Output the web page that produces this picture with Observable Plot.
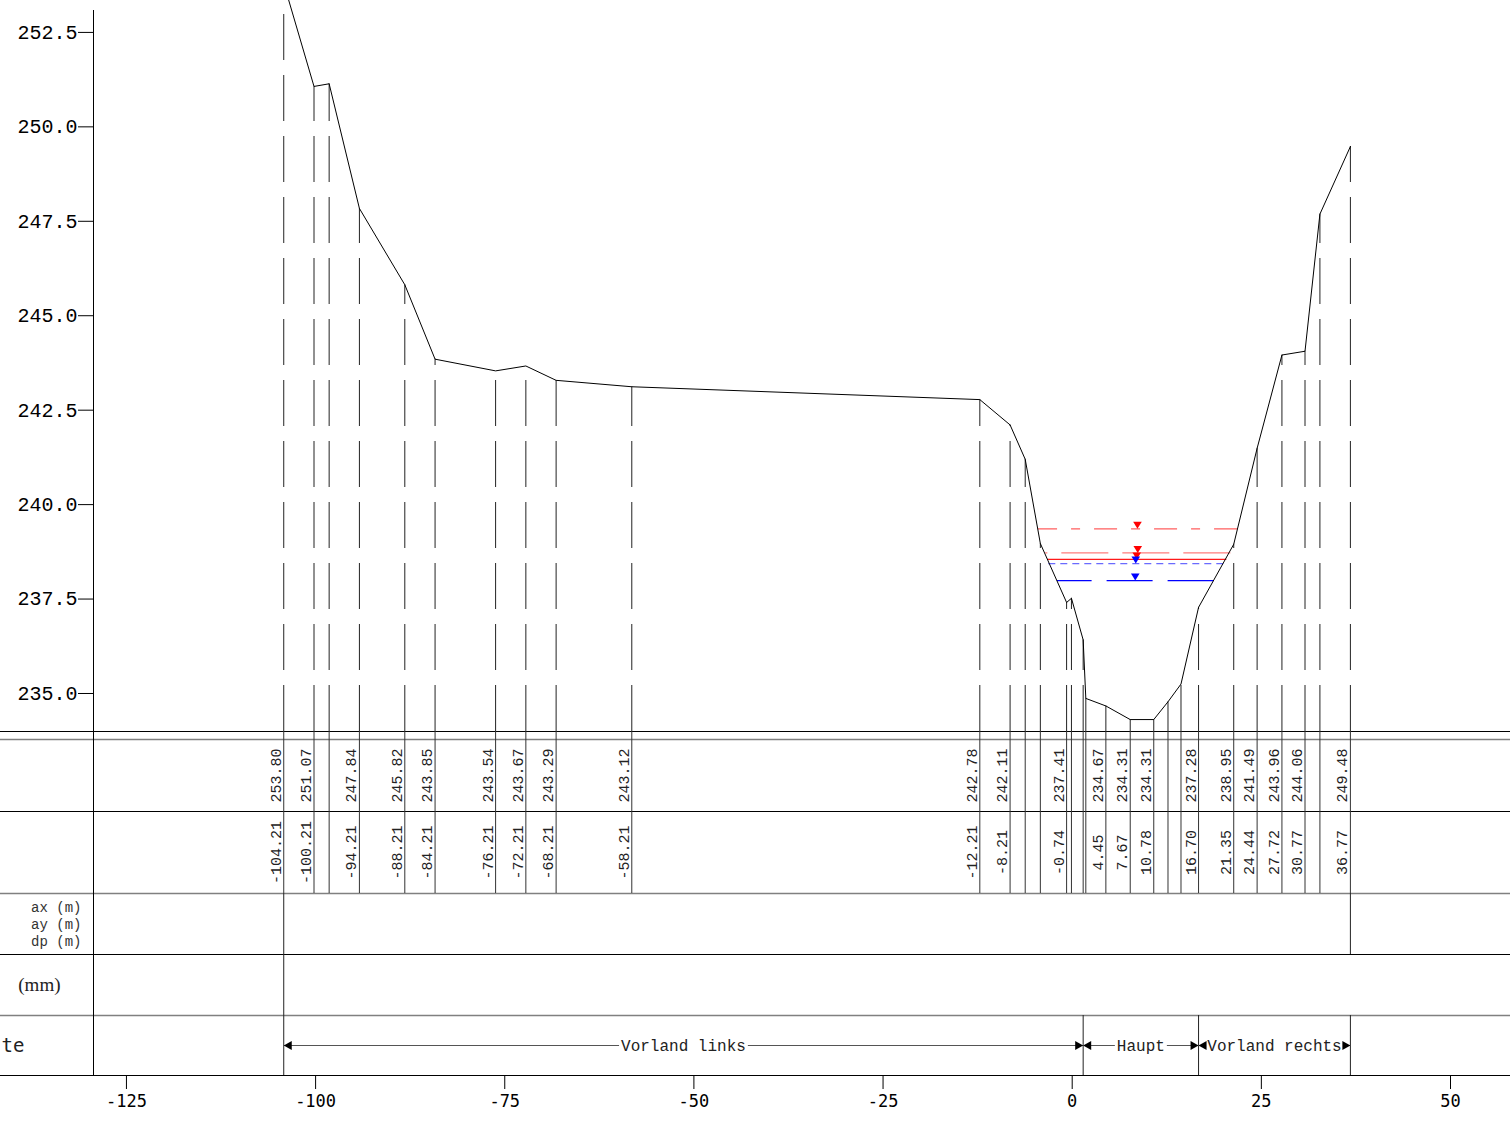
<!DOCTYPE html>
<html><head><meta charset="utf-8">
<script src="https://cdn.jsdelivr.net/npm/d3@7"></script>
<script src="https://cdn.jsdelivr.net/npm/@observablehq/plot@0.6"></script>
<style>
html,body{margin:0;padding:0;background:#fff;overflow:hidden;}
#chart svg{display:block;}
</style></head><body><div id="chart"></div>
<script>
// ---- data ----
const stations = [-104.21,-100.21,-98.21,-94.21,-88.21,-84.21,-76.21,-72.21,-68.21,-58.21,-12.21,-8.21,-6.21,-4.21,-0.74,-0.10,1.45,1.80,4.45,7.67,10.78,12.66,14.38,16.70,21.35,24.44,27.72,30.77,32.74,36.77];
const elevations = [253.80,251.07,251.14,247.84,245.82,243.85,243.54,243.67,243.29,243.12,242.78,242.11,241.20,238.97,237.41,237.52,236.42,234.87,234.67,234.31,234.31,234.78,235.25,237.28,238.95,241.49,243.96,244.06,247.69,249.48];
const labeled = [1,1,0,1,1,1,1,1,1,1,1,1,0,0,1,0,0,0,1,1,1,0,0,1,1,1,1,1,0,1];

const levelElev  = [239.36, 238.72, 238.55, 238.44, 237.99];
const levelLeft  = [-4.54, -3.57, -3.31, -3.17, -2.02];
const levelRight = [21.79, 20.90, 20.37, 19.97, 18.69];

const sectionNames = ["Vorland links", "Haupt", "Vorland rechts"];
const sectionFrom  = [-104.21, 1.45, 16.70];
const sectionTo    = [1.45, 16.70, 36.77];

const xTicks = [-125, -100, -75, -50, -25, 0, 25, 50];
const yTicks = [235, 237.5, 240, 242.5, 245, 247.5, 250, 252.5];

// ---- styles / layout ----
const levelStyles = [
  {stroke: "#ff5f5f", dash: "23,14,9,14", marker: "#ff0000"},
  {stroke: "#ff7c7c", dash: "47,14",      marker: "#ff0000"},
  {stroke: "#ff1a1a", dash: null,         marker: "#ff0000"},
  {stroke: "#6a6aff", dash: "7,5",        marker: "#0000ff"},
  {stroke: "#0000ff", dash: "46,15",      marker: "#0000ff"}
];
const W = 1510, LEFT = 93;
const K = 7.566, X0PX = 1071.7;           // px per metre, px of station 0
const toX = px => (px - X0PX) / K;
const xDomain = [toX(LEFT), toX(W)];
const xPage = [toX(0), toX(W)];
const Y0 = 233.994, Y1 = 253.08;

const mono = "'Nimbus Mono PS', 'Courier New', Courier, FreeMono, 'Liberation Mono', monospace";
const sansMono = "'DejaVu Sans Mono', monospace";

const pts = stations.map((s, i) => ({station: s, elev: elevations[i], labeled: !!labeled[i]}));
const lab = pts.filter(d => d.labeled);
const levels = levelElev.map((e, i) => ({elev: e, left: levelLeft[i], right: levelRight[i], mid: (levelLeft[i] + levelRight[i]) / 2}));

const triDown = {draw(c) { c.moveTo(0, 0); c.lineTo(-4.3, -7); c.lineTo(4.3, -7); c.closePath(); }};
const triLeft = {draw(c) { c.moveTo(0, 0); c.lineTo(8, -4.5); c.lineTo(8, 4.5); c.closePath(); }};
const triRight = {draw(c) { c.moveTo(0, 0); c.lineTo(-8, -4.5); c.lineTo(-8, 4.5); c.closePath(); }};

// ---- profile plot ----
const plotA = Plot.plot({
  width: W, height: 731, marginTop: 10, marginBottom: 0, marginLeft: LEFT, marginRight: 0,
  x: {domain: xDomain, label: null, axis: null},
  y: {domain: [Y0, Y1], label: null, axis: null},
  style: {fontFamily: mono, fontSize: "20px", background: "white", color: "#000"},
  marks: [
    Plot.ruleX(pts, {x: "station", y1: Y0, y2: "elev", stroke: "#222", strokeWidth: 1, strokeDasharray: "46,15"}),
    ...levels.map((d, i) => Plot.link([d], {x1: "right", x2: "left", y1: "elev", y2: "elev",
      stroke: levelStyles[i].stroke, strokeWidth: 1.2, strokeDasharray: levelStyles[i].dash})),
    Plot.line(pts, {x: "station", y: "elev", stroke: "#000", strokeWidth: 1}),
    ...levels.map((d, i) => Plot.dot([d], {x: "mid", y: "elev", symbol: triDown, fill: levelStyles[i].marker})),
    Plot.ruleX([xDomain[0]], {y1: Y0, y2: Y1, stroke: "#000"}),
    Plot.axisY({ticks: yTicks, tickFormat: d => d.toFixed(1), tickSize: 15, tickPadding: 1, anchor: "left"})
  ]
});

// ---- table plot ----
const rowsBlack = [731, 811, 954, 1075];
const rowsGray = [739, 893, 1015];
const halfText = name => (name.length * 0.6 * 16 / 2 + 2) / K;
const secs = sectionNames.map((n, i) => ({name: n, from: sectionFrom[i], to: sectionTo[i], mid: (sectionFrom[i] + sectionTo[i]) / 2}));

const plotB = Plot.plot({
  width: W, height: 400, marginTop: 0, marginBottom: 56, marginLeft: LEFT, marginRight: 0,
  x: {domain: xDomain, label: null, axis: null},
  y: {domain: [731, 1075], range: [0, 344], label: null, axis: null},
  style: {fontFamily: sansMono, fontSize: "17px", background: "white", color: "#000"},
  marks: [
    Plot.ruleY(rowsGray, {x1: xPage[0], x2: xPage[1], stroke: "#808080", strokeWidth: 1.5}),
    Plot.ruleY(rowsBlack, {x1: xPage[0], x2: xPage[1], stroke: "#000"}),
    Plot.ruleX(pts, {x: "station", y1: 731, y2: 893, stroke: "#333"}),
    Plot.ruleX([xDomain[0]], {y1: 731, y2: 1075, stroke: "#000"}),
    Plot.ruleX([stations[0]], {y1: 893, y2: 1075, stroke: "#222"}),
    Plot.ruleX([stations[stations.length - 1]], {y1: 893, y2: 954, stroke: "#222"}),
    Plot.ruleX([stations[stations.length - 1], ...sectionFrom.slice(1)], {y1: 1015, y2: 1075, stroke: "#222"}),
    Plot.text(lab, {x: "station", y: 775, text: d => d.elev.toFixed(2), rotate: -90, textAnchor: "middle",
      lineAnchor: "bottom", dx: -3, fontFamily: mono, fontSize: 15, fill: "#222"}),
    Plot.text(lab, {x: "station", y: 852, text: d => d.station.toFixed(2), rotate: -90, textAnchor: "middle",
      lineAnchor: "bottom", dx: -3, fontFamily: mono, fontSize: 15, fill: "#222"}),
    Plot.text(["ax (m)", "ay (m)", "dp (m)"], {frameAnchor: "left", y: (d, i) => 907 + 17 * i, text: d => d,
      textAnchor: "end", dx: -12, fontFamily: mono, fontSize: 14, fill: "#333"}),
    Plot.text(["(mm)"], {frameAnchor: "left", y: 984, text: d => d, textAnchor: "end", dx: -33,
      fontFamily: "'Liberation Serif', serif", fontSize: 19, fill: "#222"}),
    Plot.text(["te"], {frameAnchor: "left", y: 1045, text: d => d, textAnchor: "start", dx: -LEFT + 1,
      fontFamily: sansMono, fontSize: 19, fill: "#222"}),
    Plot.link(secs, {x1: "from", x2: d => d.mid - halfText(d.name), y1: 1045, y2: 1045, stroke: "#555"}),
    Plot.link(secs, {x1: d => d.mid + halfText(d.name), x2: "to", y1: 1045, y2: 1045, stroke: "#555"}),
    Plot.text(secs, {x: "mid", y: 1045, text: "name", fontFamily: mono, fontSize: 16, fill: "#222"}),
    Plot.dot(secs, {x: "from", y: 1045, symbol: triLeft, fill: "#000"}),
    Plot.dot(secs, {x: "to", y: 1045, symbol: triRight, fill: "#000"}),
    Plot.axisX({ticks: xTicks, tickFormat: d => String(d), tickSize: 14, tickPadding: 5, anchor: "bottom"})
  ]
});

const root = document.getElementById("chart");
root.appendChild(plotA);
root.appendChild(plotB);
</script>
</body></html>
